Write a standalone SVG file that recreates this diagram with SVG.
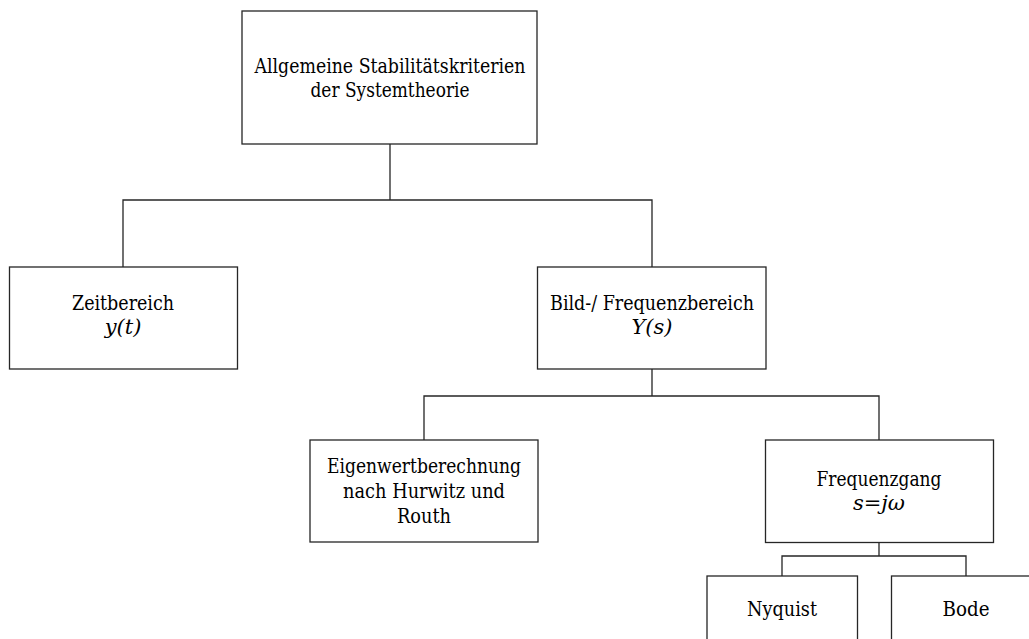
<svg xmlns="http://www.w3.org/2000/svg" width="1029" height="639" viewBox="0 0 1029 639">
<style>
.box{fill:#fff;stroke:#262626;stroke-width:1.3}
.ln{fill:none;stroke:#262626;stroke-width:1.3}
.t{font-family:"DejaVu Serif",serif;font-size:21px;fill:#000;text-anchor:middle}
.it{font-style:italic}
</style>
<rect width="1029" height="639" fill="#fff"/>
<g id="connectors">
<path class="ln" d="M390,144V200M123,267V200H652V267"/>
<path class="ln" d="M652,369V396M424,440V396H879V440"/>
<path class="ln" d="M879,543V556M782,576V556H966V576"/>
</g>
<g id="n-root">
<rect class="box" x="242" y="11" width="295" height="133"/>
<text class="t" x="390" y="73" textLength="271" lengthAdjust="spacingAndGlyphs">Allgemeine Stabilitätskriterien</text>
<text class="t" x="390" y="97" textLength="159" lengthAdjust="spacingAndGlyphs">der Systemtheorie</text>
</g>
<g id="n-zeit">
<rect class="box" x="9.5" y="267" width="228" height="102"/>
<text class="t" x="123" y="310" textLength="102" lengthAdjust="spacingAndGlyphs">Zeitbereich</text>
<text class="t it" x="123" y="334">y(t)</text>
</g>
<g id="n-bild">
<rect class="box" x="537.5" y="267" width="228.5" height="102"/>
<text class="t" x="652" y="310" textLength="204" lengthAdjust="spacingAndGlyphs">Bild-/ Frequenzbereich</text>
<text class="t it" x="652" y="334">Y(s)</text>
</g>
<g id="n-eigen">
<rect class="box" x="310" y="440" width="228" height="102"/>
<text class="t" x="424" y="473" textLength="194" lengthAdjust="spacingAndGlyphs">Eigenwertberechnung</text>
<text class="t" x="424" y="498" textLength="162" lengthAdjust="spacingAndGlyphs">nach Hurwitz und</text>
<text class="t" x="424" y="523" textLength="54" lengthAdjust="spacingAndGlyphs">Routh</text>
</g>
<g id="n-freq">
<rect class="box" x="765.5" y="440" width="228" height="102.5"/>
<text class="t" x="879" y="486" textLength="125" lengthAdjust="spacingAndGlyphs">Frequenzgang</text>
<text class="t it" x="879" y="510">s=jω</text>
</g>
<g id="n-nyquist">
<rect class="box" x="707" y="576" width="150.5" height="80"/>
<text class="t" x="782" y="616" textLength="70" lengthAdjust="spacingAndGlyphs">Nyquist</text>
</g>
<g id="n-bode">
<rect class="box" x="891.5" y="576" width="150.5" height="80"/>
<text class="t" x="966" y="616" textLength="47" lengthAdjust="spacingAndGlyphs">Bode</text>
</g>
</svg>
